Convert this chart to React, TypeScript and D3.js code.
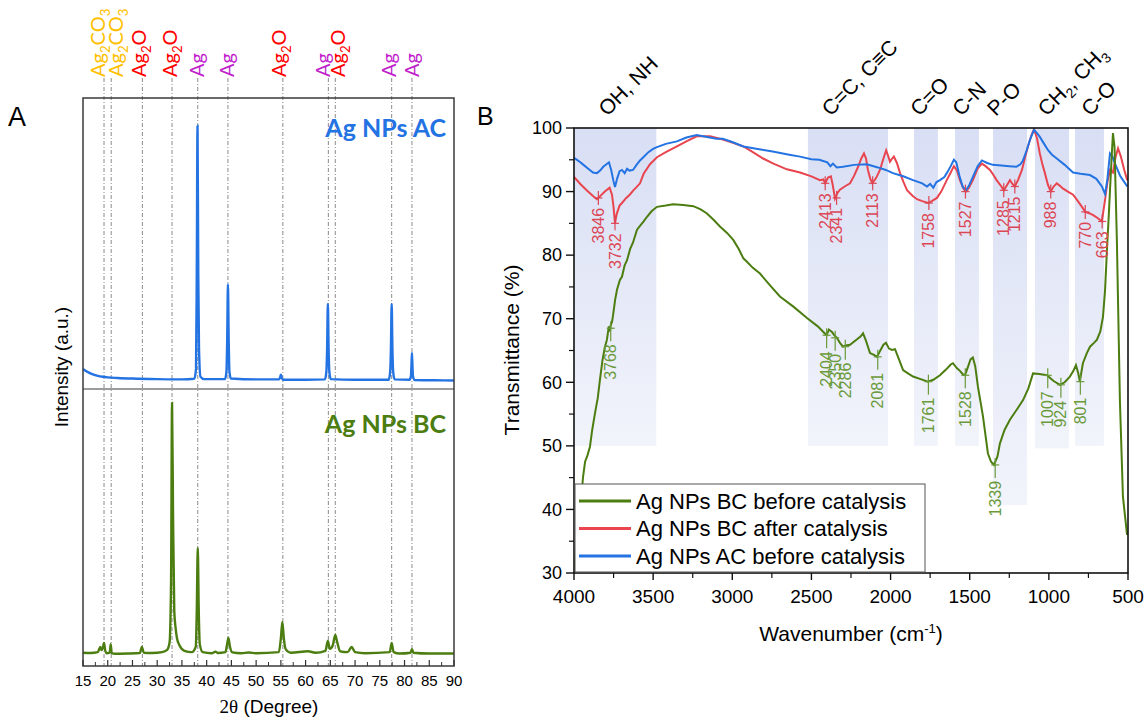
import React from "react";
import * as d3 from "d3";

// ---------- A: XRD ----------
const xrdTicks = [15, 20, 25, 30, 35, 40, 45, 50, 55, 60, 65, 70, 75, 80, 85, 90];

// Ag NPs AC pattern, [2theta, intensity a.u.]
const acPattern: [number, number][] = [
  [15, 6.9], [16, 5.8], [17, 5.0], [18, 4.5], [19, 4.2], [20, 4.0], [22, 3.8], [25, 3.6], [30, 3.4],
  [35, 3.3], [37.5, 3.5], [37.85, 7], [38.0, 40], [38.15, 90.4], [38.3, 40], [38.45, 14], [38.75, 4.2],
  [39.5, 3.4], [43.7, 3.4], [44.0, 6], [44.15, 17], [44.3, 36], [44.45, 17], [44.6, 6], [44.9, 3.6],
  [50, 3.3], [54.6, 3.3], [54.85, 4], [55.0, 4.9], [55.15, 4], [55.4, 3.2], [60, 3.2], [63.9, 3.3],
  [64.2, 6], [64.35, 14], [64.5, 29.2], [64.65, 14], [64.8, 6], [65.1, 3.4], [70, 3.2], [76.8, 3.2],
  [77.1, 6], [77.25, 14], [77.4, 29.2], [77.55, 14], [77.7, 6], [78.0, 3.3], [81.0, 3.2], [81.3, 4.5],
  [81.4, 8], [81.5, 12.4], [81.6, 8], [81.7, 4.5], [82.0, 3.1], [86, 3.0], [90, 2.9],
];

// Ag NPs BC pattern
const bcPattern: [number, number][] = [
  [15, 4.8], [16.5, 4.7], [18.0, 5.0], [18.3, 6.2], [18.5, 6.9], [18.7, 5.8], [19.0, 6.5], [19.25, 8.3],
  [19.5, 5.5], [19.8, 4.6], [20.4, 4.8], [20.6, 7.9], [20.8, 4.7], [21.5, 4.4], [24, 4.5], [26.5, 4.7],
  [26.9, 6.9], [27.3, 4.8], [29, 4.7], [31, 5.0], [32.0, 5.8], [32.5, 8.5], [32.8, 30], [33.0, 95],
  [33.2, 55], [33.45, 20], [33.7, 14], [34.0, 10], [34.5, 7.5], [35.5, 5.5], [37, 5.0], [37.8, 7],
  [38.0, 20], [38.2, 42.6], [38.4, 20], [38.6, 8], [39.2, 5], [41, 4.6], [41.8, 5.2], [42.2, 4.7],
  [43.8, 5.0], [44.1, 7.5], [44.4, 10.1], [44.7, 7], [45.2, 4.9], [47, 4.6], [48.5, 4.9], [50, 4.6],
  [54.6, 5.0], [55.0, 10], [55.3, 15.9], [55.6, 10], [56.0, 6], [57, 4.8], [60.5, 5.3], [62, 4.8],
  [64.0, 5.5], [64.5, 9.0], [64.9, 6.2], [65.5, 7.5], [66.0, 11.2], [66.4, 8.5], [67, 5.3], [68.5, 5],
  [69.3, 6.9], [70, 5], [72, 4.6], [77.0, 5], [77.4, 8.3], [77.8, 5], [79, 4.5], [81.2, 4.8],
  [81.5, 6.1], [81.8, 4.8], [85, 4.5], [90, 4.5],
];

const phaseLines = [19.25, 20.7, 27.0, 33.0, 38.2, 44.3, 55.4, 64.6, 66.0, 77.4, 81.5];
const phaseNames = ["Ag2CO3", "Ag2CO3", "Ag2O", "Ag2O", "Ag", "Ag", "Ag2O", "Ag", "Ag2O", "Ag", "Ag"];

// ---------- B: FTIR ----------
const irTicks = [4000, 3500, 3000, 2500, 2000, 1500, 1000, 500];
const tTicks = [30, 40, 50, 60, 70, 80, 90, 100];

const bcBefore: [number, number][] = [
  [3998, 30], [3990, 33.5], [3980, 36], [3970, 38.5], [3960, 41], [3950, 43], [3943, 45.1], [3930, 47.5],
  [3915, 48.5], [3899, 49.9], [3885, 52.5], [3867, 55.2], [3850, 57.5], [3836, 60.4], [3820, 63.5],
  [3805, 65.5], [3792, 66.7], [3780, 68.8], [3773, 68.0], [3768, 69.0], [3760, 69.5], [3754, 70.4],
  [3740, 73.0], [3728, 74.6], [3710, 76.1], [3697, 76.6], [3680, 78.4], [3665, 79.2], [3645, 81.0],
  [3627, 82.0], [3602, 84.0], [3583, 84.6], [3560, 85.3], [3540, 86.0], [3510, 86.9], [3476, 87.6],
  [3420, 87.8], [3374, 88.0], [3310, 87.9], [3246, 87.7], [3200, 87.2], [3162, 86.6], [3120, 85.6],
  [3078, 84.5], [3033, 83.5], [2994, 82.4], [2960, 81.0], [2930, 79.5], [2909, 79.0], [2870, 78.0],
  [2825, 77.1], [2760, 75.2], [2699, 73.5], [2614, 71.9], [2528, 70.1], [2460, 68.8], [2420, 67.8],
  [2404, 67.4], [2390, 68.3], [2370, 67.9], [2355, 67.4], [2339, 67.0], [2320, 66.2], [2300, 65.6],
  [2285, 65.8], [2256, 65.9], [2220, 66.6], [2190, 67.2], [2174, 67.7], [2155, 66.5], [2130, 64.6],
  [2105, 64.3], [2086, 64.0], [2065, 65.0], [2045, 65.9], [2029, 66.2], [2010, 65.3], [1991, 65.1],
  [1972, 65.2], [1950, 63.8], [1921, 61.9], [1890, 61.4], [1858, 60.9], [1810, 60.5], [1764, 60.1],
  [1730, 60.4], [1688, 61.1], [1650, 62.0], [1620, 62.8], [1606, 63.0], [1580, 62.2], [1562, 61.8],
  [1545, 61.3], [1530, 61.1], [1510, 62.5], [1495, 63.6], [1480, 63.9], [1465, 62.5], [1448, 59.3],
  [1416, 54.6], [1385, 48.8], [1365, 47.5], [1347, 47.0], [1325, 48.3], [1309, 50.4], [1280, 52.5],
  [1246, 54.1], [1200, 55.8], [1163, 57.2], [1130, 59.0], [1100, 61.4], [1060, 61.3], [1012, 61.1],
  [970, 60.2], [930, 59.6], [900, 60.0], [867, 60.9], [845, 61.8], [829, 62.7], [815, 61.5], [804, 60.1],
  [795, 61.5], [785, 63.0], [760, 64.6], [740, 65.6], [715, 66.2], [696, 66.7], [675, 68.0], [658, 70.3],
  [645, 74.5], [633, 80.8], [622, 86.0], [614, 90.1], [601, 96.5], [595, 99.2], [585, 97.0], [570, 82.0],
  [551, 57.0], [532, 42.0], [506, 36.0],
];

const bcAfter: [number, number][] = [
  [4000, 92.3], [3960, 91.2], [3920, 90.2], [3880, 89.3], [3855, 88.8], [3830, 89.4], [3805, 90.0],
  [3775, 90.6], [3760, 89.5], [3750, 87.5], [3741, 85.0], [3730, 86.5], [3712, 87.8], [3697, 88.2],
  [3670, 89.0], [3648, 89.5], [3625, 90.2], [3605, 90.7], [3583, 91.3], [3560, 92.8], [3520, 94.3],
  [3476, 95.4], [3420, 96.2], [3350, 97.1], [3290, 97.9], [3225, 98.7], [3140, 98.7], [3060, 98.2],
  [3000, 97.7], [2930, 97.1], [2870, 96.2], [2805, 95.2], [2740, 94.4], [2655, 93.5], [2572, 93.0],
  [2500, 92.4], [2446, 91.8], [2425, 91.9], [2413, 91.3], [2395, 92.2], [2377, 92.4], [2365, 91.0],
  [2351, 88.9], [2335, 89.8], [2320, 90.3], [2290, 90.8], [2256, 91.3], [2230, 92.5], [2205, 93.9],
  [2185, 95.2], [2168, 96.0], [2155, 95.2], [2143, 93.4], [2128, 92.0], [2115, 91.3], [2090, 92.2],
  [2067, 93.4], [2045, 95.2], [2028, 96.5], [2015, 95.6], [2004, 94.7], [1990, 95.2], [1979, 95.5],
  [1960, 94.5], [1940, 92.9], [1920, 91.6], [1896, 90.2], [1860, 89.3], [1833, 88.8], [1800, 88.5],
  [1763, 88.2], [1740, 88.5], [1707, 89.0], [1680, 90.0], [1645, 91.8], [1620, 93.0], [1600, 94.0],
  [1580, 93.3], [1562, 91.8], [1540, 90.5], [1524, 90.0], [1505, 90.6], [1480, 91.8], [1450, 93.6],
  [1423, 94.4], [1400, 94.0], [1372, 93.4], [1350, 92.6], [1330, 91.8], [1300, 90.8], [1285, 90.2],
  [1265, 91.0], [1246, 91.8], [1230, 91.2], [1215, 90.8], [1195, 91.8], [1170, 93.4], [1150, 95.4],
  [1132, 97.1], [1110, 98.9], [1094, 99.8], [1075, 98.4], [1057, 96.0], [1040, 94.2], [1025, 92.9],
  [1005, 91.0], [988, 90.0], [970, 90.8], [950, 91.3], [930, 90.9], [912, 90.5], [880, 90.0], [847, 89.5],
  [820, 88.6], [791, 87.6], [770, 86.8], [745, 86.6], [720, 86.3], [690, 85.8], [665, 85.3], [645, 88.7],
  [630, 91.5], [614, 93.4], [595, 93.0], [578, 95.5], [563, 96.8], [545, 95.5], [525, 93.5], [505, 91.8],
];

const acBefore: [number, number][] = [
  [4000, 95.3], [3970, 94.8], [3940, 94.2], [3910, 93.6], [3880, 93.0], [3855, 92.9], [3835, 93.3],
  [3815, 93.9], [3795, 94.3], [3779, 94.6], [3765, 93.4], [3752, 91.8], [3741, 90.7], [3728, 92.0],
  [3712, 93.2], [3697, 93.4], [3680, 92.9], [3665, 93.6], [3650, 93.3], [3627, 93.4], [3605, 94.2],
  [3583, 94.9], [3562, 95.4], [3530, 96.2], [3500, 96.7], [3476, 97.0], [3420, 97.5], [3350, 97.9],
  [3290, 98.5], [3225, 98.9], [3160, 98.6], [3100, 98.3], [3060, 98.3], [3000, 97.8], [2930, 97.1],
  [2840, 96.7], [2745, 96.3], [2640, 95.8], [2572, 95.5], [2500, 95.1], [2450, 95.0], [2400, 94.6],
  [2380, 94.0], [2364, 94.4], [2340, 93.8], [2300, 93.9], [2230, 94.2], [2150, 94.3], [2080, 93.8],
  [2030, 93.4], [1985, 92.9], [1920, 92.4], [1858, 91.8], [1800, 91.3], [1770, 90.8], [1750, 91.2],
  [1730, 90.6], [1710, 91.5], [1688, 91.8], [1660, 92.3], [1645, 92.9], [1620, 94.0], [1600, 95.0],
  [1585, 94.6], [1565, 92.5], [1545, 90.8], [1524, 90.2], [1505, 90.9], [1480, 92.3], [1450, 94.0],
  [1423, 94.9], [1390, 94.5], [1354, 94.2], [1300, 94.1], [1250, 94.0], [1205, 93.9], [1180, 94.3],
  [1165, 94.8], [1140, 96.5], [1120, 98.1], [1094, 99.7], [1075, 99.2], [1057, 98.6], [1030, 97.5],
  [1005, 96.5], [980, 95.8], [950, 95.2], [900, 94.2], [847, 93.0], [800, 92.8], [740, 92.6], [700, 92.0],
  [665, 90.8], [645, 89.6], [630, 92.0], [614, 96.0], [598, 95.5], [582, 94.4], [550, 92.5], [505, 90.8],
];

// functional group bands: [from, to, lower transmittance]
const bands: [number, number, number][] = [
  [4000, 3480, 50], [2522, 2016, 50], [1852, 1701, 50], [1593, 1442, 50],
  [1353, 1138, 40.7], [1088, 873, 49.6], [835, 652, 50],
];
const groupNames = ["OH, NH", "C=C, C≡C", "C=O", "C-N", "P-O", "CH2, CH3", "C-O"];
const groupAt = [3790, 2380, 1820, 1555, 1335, 1015, 740];

const redPeaks: [number, number][] = [
  [3846, 89.0], [3741, 85.0], [2413, 91.3], [2341, 89.0], [2113, 91.3], [1758, 88.2],
  [1527, 90.0], [1285, 90.2], [1215, 90.8], [988, 90.0], [770, 86.8], [663, 85.3],
];
const redLabels = ["3846", "3732", "2413", "2341", "2113", "1758", "1527", "1285", "1215", "988", "770", "663"];
const greenPeaks: [number, number][] = [
  [3768, 68.5], [2404, 67.4], [2350, 67.0], [2286, 65.6], [2081, 64.0], [1761, 60.1],
  [1528, 61.1], [1339, 47.0], [1007, 61.1], [924, 59.6], [801, 60.1],
];

const seriesNames = ["Ag NPs BC before catalysis", "Ag NPs BC after catalysis", "Ag NPs AC before catalysis"];

const sans = "'Liberation Sans', Arial, sans-serif";
const cal = "Lato, 'Open Sans', sans-serif";
const GREEN = "#4c7d10";
const RED = "#e8454f";
const BLUE = "#2473e3";
const phaseColor: Record<string, string> = { Ag2CO3: "#ffc000", Ag2O: "#ff0000", Ag: "#c21fcc" };
// small horizontal nudges so neighbouring phase labels don't collide
const phaseNudge = [-6, 5, -3, -2, -1, -1, -4, -5, 3, -3, 0];

function chem(label: string, shift: number) {
  const parts = label.split(/(\d)/).filter((p) => p !== "");
  let down = false;
  return parts.map((p, i) => {
    const isSub = /\d/.test(p);
    const dy = isSub ? shift : down ? -shift : 0;
    down = isSub;
    return (
      <tspan key={i} dy={dy} fontSize={isSub ? "0.66em" : undefined}>
        {p}
      </tspan>
    );
  });
}

export default function App() {
  // panel A scales
  const ax = d3.scaleLinear().domain([15, 90]).range([83, 454]);
  const ayAC = d3.scaleLinear().domain([0, 100]).range([389, 98]);
  const ayBC = d3.scaleLinear().domain([0, 100]).range([666, 389]);
  // panel B scales
  const bx = d3.scaleLinear().domain([4000, 500]).range([574, 1128]);
  const by = d3.scaleLinear().domain([30, 100]).range([573, 128]);

  const lineAC = d3.line<[number, number]>().x((d) => ax(d[0])).y((d) => ayAC(d[1])).curve(d3.curveMonotoneX);
  const lineBC = d3.line<[number, number]>().x((d) => ax(d[0])).y((d) => ayBC(d[1])).curve(d3.curveMonotoneX);
  const irLine = d3.line<[number, number]>().x((d) => bx(d[0])).y((d) => by(d[1]));

  const minorA = d3.range(17.5, 90, 5);
  const minorBx = d3.range(750, 4000, 500);
  const minorBy = d3.range(35, 100, 10);

  const peakMark = (p: [number, number], label: string, color: string, below: number, key: string) => {
    const x = bx(p[0]);
    const y = by(p[1]);
    return (
      <g key={key} stroke={color} fill={color}>
        <line x1={x} x2={x} y1={y - 7} y2={y + below - 3} strokeWidth={1.2} />
        <line x1={x - 4} x2={x + 4} y1={y} y2={y} strokeWidth={1.2} />
        <text
          transform={`translate(${x},${y + below}) rotate(-90)`}
          textAnchor="end"
          dy="0.35em"
          stroke="none"
          fontFamily={sans}
          fontSize={16}
        >
          {label}
        </text>
      </g>
    );
  };

  return (
    <svg width={1145} height={720} style={{ position: "absolute", left: 0, top: 0, background: "#fff" }}>
      <defs>
        <linearGradient id="band" x1="0" y1="0" x2="0" y2="1">
          <stop offset="0" stopColor="#d8def4" />
          <stop offset="1" stopColor="#f2f4fb" />
        </linearGradient>
        <clipPath id="clipB">
          <rect x={574} y={128} width={554} height={445} />
        </clipPath>
      </defs>

      {/* ---------- panel A ---------- */}
      <text x={8} y={126} fontFamily={sans} fontSize={27}>A</text>

      {phaseLines.map((v, i) => (
        <line key={"pl" + i} x1={ax(v)} x2={ax(v)} y1={78} y2={666} stroke="#8a8a8a" strokeWidth={1} strokeDasharray="4 2 1 2" />
      ))}
      {phaseLines.map((v, i) => (
        <text
          key={"pn" + i}
          transform={`translate(${ax(v) + 7 + phaseNudge[i]},${77}) rotate(-90)`}
          fontFamily={cal}
          fontSize={20}
          fill={phaseColor[phaseNames[i]]}
        >
          {chem(phaseNames[i], 5)}
        </text>
      ))}

      <path d={lineAC(acPattern) || ""} fill="none" stroke={BLUE} strokeWidth={2.4} />
      <path d={lineBC(bcPattern) || ""} fill="none" stroke={GREEN} strokeWidth={2.4} />

      <rect x={83} y={98} width={371} height={568} fill="none" stroke="#3a3a3a" strokeWidth={1.5} />
      <line x1={83} x2={454} y1={389} y2={389} stroke="#3a3a3a" strokeWidth={1.2} />

      {xrdTicks.map((t) => (
        <g key={"xa" + t}>
          <line x1={ax(t)} x2={ax(t)} y1={666} y2={660} stroke="#333" strokeWidth={1.2} />
          <text x={ax(t)} y={686} textAnchor="middle" fontFamily={sans} fontSize={15}>{t}</text>
        </g>
      ))}
      {minorA.map((t) => (
        <line key={"xm" + t} x1={ax(t)} x2={ax(t)} y1={666} y2={662} stroke="#333" strokeWidth={1} />
      ))}

      <text x={446} y={137} textAnchor="end" fontFamily={cal} fontWeight={700} fontSize={25} fill={BLUE}>Ag NPs AC</text>
      <text x={446} y={433} textAnchor="end" fontFamily={cal} fontWeight={700} fontSize={25} fill={GREEN}>Ag NPs BC</text>

      <text transform="translate(68,367) rotate(-90)" textAnchor="middle" fontFamily={sans} fontSize={19}>Intensity (a.u.)</text>
      <text x={269} y={713} textAnchor="middle" fontFamily={sans} fontSize={19}>
        <tspan fontFamily="'Liberation Serif', serif">2θ</tspan> (Degree)
      </text>

      {/* ---------- panel B ---------- */}
      <text x={477} y={125} fontFamily={sans} fontSize={25}>B</text>

      {bands.map((b, i) => (
        <rect key={"bd" + i} x={bx(b[0])} y={by(100)} width={bx(b[1]) - bx(b[0])} height={by(b[2]) - by(100)} fill="url(#band)" />
      ))}

      {groupNames.map((g, i) => (
        <text
          key={"gn" + i}
          transform={`translate(${bx(groupAt[i])},${117}) rotate(-45)`}
          fontFamily={sans}
          fontSize={21}
        >
          {chem(g, 5)}
        </text>
      ))}

      <g clipPath="url(#clipB)" fill="none" strokeWidth={2}>
        <path d={irLine(bcAfter) || ""} stroke={RED} />
        <path d={irLine(acBefore) || ""} stroke={BLUE} />
        <path d={irLine(bcBefore) || ""} stroke={GREEN} />
      </g>

      {redPeaks.map((p, i) => peakMark(p, redLabels[i], "#dc4655", 10, "rp" + i))}
      {greenPeaks.map((p, i) => peakMark(p, String(p[0]), "#6a9a3a", 16, "gp" + i))}

      {/* frame */}
      <rect x={574} y={128} width={554} height={445} fill="none" stroke="#111" strokeWidth={1.6} />

      {irTicks.map((t) => (
        <g key={"bx" + t}>
          <line x1={bx(t)} x2={bx(t)} y1={573} y2={580} stroke="#111" strokeWidth={1.4} />
          <text x={bx(t)} y={603} textAnchor="middle" fontFamily={sans} fontSize={19}>{t}</text>
        </g>
      ))}
      {minorBx.map((t) => (
        <line key={"bxm" + t} x1={bx(t)} x2={bx(t)} y1={573} y2={578} stroke="#111" strokeWidth={1.2} />
      ))}
      {tTicks.map((t) => (
        <g key={"by" + t}>
          <line x1={574} x2={566} y1={by(t)} y2={by(t)} stroke="#111" strokeWidth={1.4} />
          <text x={562} y={by(t)} dy="0.35em" textAnchor="end" fontFamily={sans} fontSize={18}>{t}</text>
        </g>
      ))}
      {minorBy.map((t) => (
        <line key={"bym" + t} x1={574} x2={569} y1={by(t)} y2={by(t)} stroke="#111" strokeWidth={1.2} />
      ))}

      <text transform="translate(519,350) rotate(-90)" textAnchor="middle" fontFamily={sans} fontSize={21}>Transmittance (%)</text>
      <text x={851} y={641} textAnchor="middle" fontFamily={sans} fontSize={21}>
        Wavenumber (cm<tspan dy={-8} fontSize={13}>-1</tspan><tspan dy={8}>)</tspan>
      </text>

      {/* legend */}
      <rect x={575} y={484} width={350} height={88} fill="#fff" stroke="#555" strokeWidth={1} />
      {seriesNames.map((s, i) => {
        const y = 501 + i * 27.5;
        const c = [GREEN, RED, BLUE][i];
        return (
          <g key={"lg" + i}>
            <line x1={579} x2={631} y1={y} y2={y} stroke={c} strokeWidth={3} />
            <text x={636} y={y} dy="0.35em" fontFamily={sans} fontSize={22}>{s}</text>
          </g>
        );
      })}
    </svg>
  );
}
